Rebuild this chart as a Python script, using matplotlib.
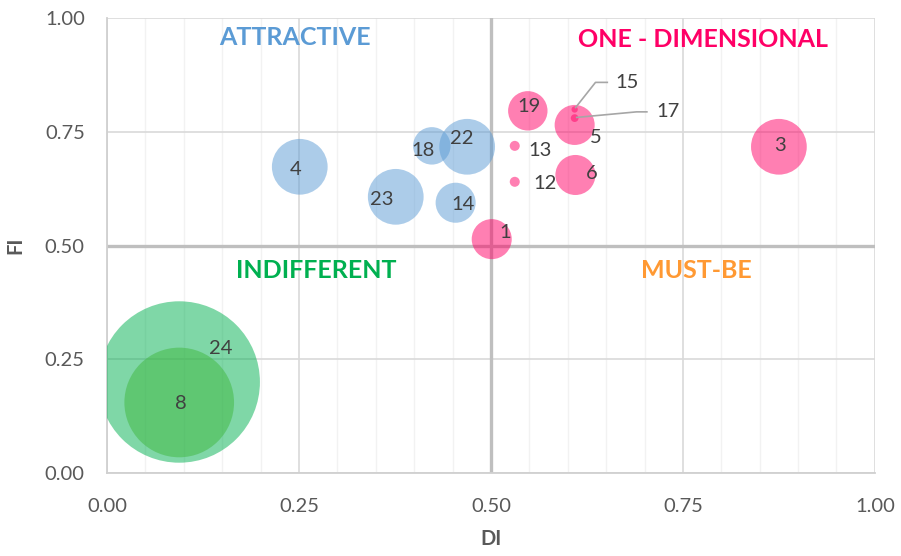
import matplotlib
matplotlib.use("Agg")
import matplotlib.pyplot as plt
import matplotlib.transforms as mtrans
from matplotlib.ticker import MultipleLocator

plt.rcParams['font.family'] = ['Lato', 'DejaVu Sans']

# ---- data ----
labels = ["24", "8", "4", "23", "18", "22", "14", "1", "19", "13", "12", "5", "15", "17", "6", "3"]
di     = [0.094, 0.094, 0.251, 0.376, 0.423, 0.469, 0.454, 0.501, 0.548, 0.531, 0.531, 0.609, 0.609, 0.609, 0.610, 0.875]
fi     = [0.200, 0.155, 0.673, 0.607, 0.719, 0.717, 0.594, 0.514, 0.796, 0.719, 0.640, 0.765, 0.799, 0.780, 0.655, 0.717]
weight = [26.0, 12.0, 3.1, 3.1, 1.4, 3.1, 1.6, 1.6, 1.55, 0.1, 0.1, 1.6, 0.04, 0.06, 1.6, 3.1]
group  = ["I", "I8", "A", "A", "A", "A", "A", "O", "O", "O", "O", "O", "O", "O", "O", "O"]
x_ticks = [0.00, 0.25, 0.50, 0.75, 1.00]
y_ticks = [0.00, 0.25, 0.50, 0.75, 1.00]
quadrants = ["ATTRACTIVE", "ONE - DIMENSIONAL", "INDIFFERENT", "MUST-BE"]

# ---- style ----
colors = {"A": ("#5B9BD5", 0.5), "O": ("#FF0066", 0.5), "I": ("#00B050", 0.5), "I8": ("#46BA48", 0.55)}
label_offsets = {"24": (30, 24), "8": (1, -1), "4": (-3, -2), "23": (-10, -2), "18": (-6, -3),
                 "22": (-4, 6), "14": (5, -1), "1": (10, 5), "19": (1, 3), "13": (18, -3),
                 "12": (22, -1), "5": (15, -9), "6": (12, 1), "3": (1, 1)}
# leader lines (points relative to bubble): polyline, then label position
leaders = {"15": ([(0.7, 1.4), (15, 19.5), (23.5, 19.5)], (38, 19.5)),
           "17": ([(1.5, 0.5), (44.6, 4.5), (52, 4.5)], (67.5, 4.5))}
quad_pos = [(0.245, 0.957), (0.776, 0.952), (0.273, 0.446), (0.768, 0.444)]
quad_col = ["#5B9BD5", "#FF0066", "#00B050", "#FF9933"]
SIZE_SCALE = 519.5
txt_col = "#404040"
tick_col = "#595959"
FS = 14.5

fig = plt.figure(figsize=(9.01, 5.56), dpi=100)
ax = fig.add_axes([0.1188, 0.1493, 0.971 - 0.1188, 0.9676 - 0.1493])

ax.set_xlim(0, 1)
ax.set_ylim(0, 1)
ax.set_xticks(x_ticks)
ax.set_yticks(y_ticks)
ax.xaxis.set_minor_locator(MultipleLocator(0.05))
ax.set_xticklabels([f"{v:.2f}" for v in x_ticks])
ax.set_yticklabels([f"{v:.2f}" for v in y_ticks])
ax.tick_params(which="both", length=0, labelsize=FS, colors=tick_col)
ax.tick_params(axis="x", pad=18)
ax.tick_params(axis="y", pad=16)
ax.grid(which="major", color="#D9D9D9", lw=1.2, zorder=0)
ax.grid(which="minor", axis="x", color="#F2F2F2", lw=1.0, zorder=0)
ax.set_axisbelow(True)
for s in ["top", "right"]:
    ax.spines[s].set_visible(False)
for s in ["left", "bottom"]:
    ax.spines[s].set_color("#D0D0D0")
    ax.spines[s].set_linewidth(1.3)

ax.axvline(0.5, color="#BFBFBF", lw=2.4, zorder=1)
ax.axhline(0.5, color="#BFBFBF", lw=2.4, zorder=1)

for lab, x, y, w, g in zip(labels, di, fi, weight, group):
    c, a = colors[g]
    ax.scatter([x], [y], s=w * SIZE_SCALE, color=c, alpha=a, edgecolors="none", zorder=3)

for lab, x, y in zip(labels, di, fi):
    if lab in label_offsets:
        dx, dy = label_offsets[lab]
        ax.annotate(lab, (x, y), xytext=(dx, dy), textcoords="offset points",
                    ha="center", va="center", fontsize=FS, color=txt_col, zorder=5)
    elif lab in leaders:
        poly, (tx, ty) = leaders[lab]
        tr = (mtrans.Affine2D().scale(1 / 72) + fig.dpi_scale_trans
              + mtrans.ScaledTranslation(x, y, ax.transData))
        ax.plot([p[0] for p in poly], [p[1] for p in poly], color="#A6A6A6",
                lw=1.2, transform=tr, zorder=5, clip_on=False)
        ax.annotate(lab, (x, y), xytext=(tx, ty), textcoords="offset points",
                    ha="center", va="center", fontsize=FS, color=txt_col, zorder=5)

for t, (qx, qy), c in zip(quadrants, quad_pos, quad_col):
    ax.text(qx, qy, t, transform=ax.transAxes, ha="center", va="center",
            fontsize=18, fontweight="bold", color=c, zorder=6)

ax.set_xlabel("DI", fontsize=FS, fontweight="bold", color=tick_col, labelpad=10)
ax.set_ylabel("FI", fontsize=FS, fontweight="bold", color=tick_col, labelpad=14)

fig.savefig("out.png", dpi=100)
